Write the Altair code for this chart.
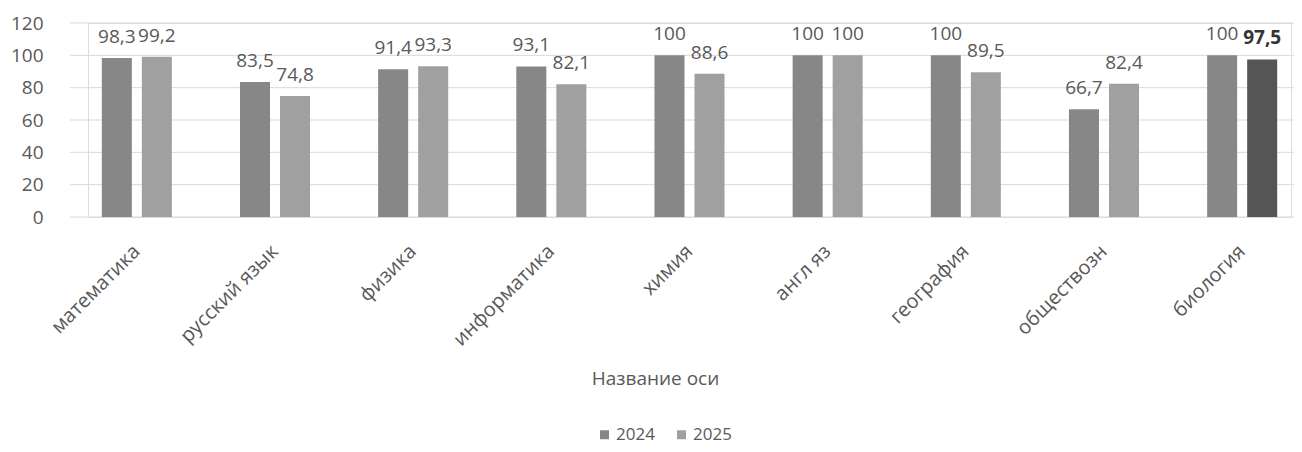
import altair as alt
import pandas as pd

subjects = ["математика", "русский язык", "физика", "информатика", "химия",
            "англ яз", "география", "обществозн", "биология"]
years = ["2024", "2025"]
v2024 = [98.3, 83.5, 91.4, 93.1, 100, 100, 100, 66.7, 100]
v2025 = [99.2, 74.8, 93.3, 82.1, 88.6, 100, 89.5, 82.4, 97.5]
y_ticks = [0, 20, 40, 60, 80, 100, 120]

rows = []
for s, a, b in zip(subjects, v2024, v2025):
    for yr, v in (("2024", a), ("2025", b)):
        shade = yr
        bold = "normal"
        if s == "биология" and yr == "2025":
            shade = "2025b"
            bold = "bold"
        rows.append({"subject": s, "year": yr, "value": v, "shade": shade,
                     "label": f"{v:g}".replace(".", ","), "weight": bold})
df = pd.DataFrame(rows)
grid_df = pd.DataFrame({"value": y_ticks})

FONT = "Open Sans"
GREY = "#595959"
W, H = 1203, 194

y_enc = alt.Y("value:Q", scale=alt.Scale(domain=[0, 120]),
              axis=alt.Axis(title=None, values=y_ticks, tickCount=7, labelFontSize=19,
                            labelColor=GREY, labelFont=FONT, labelPadding=45,
                            domain=False, ticks=False, grid=False, labelOverlap=False))

x_enc = alt.X("subject:N", sort=subjects,
              scale=alt.Scale(paddingInner=0.493, paddingOuter=0.1),
              axis=alt.Axis(title="Название оси", labelAngle=-45, labelAlign="right",
                            labelBaseline="middle", labelPadding=31, labelFontSize=20,
                            labelColor=GREY, labelFont=FONT, domain=False, ticks=False,
                            labelOverlap=False,
                            titleFont=FONT, titleFontSize=19, titleColor=GREY,
                            titleFontWeight="normal", titleX=567, titleY=161,
                            titleBaseline="middle"))
xoff = alt.XOffset("year:N", sort=years, scale=alt.Scale(paddingInner=0.25))

grid = alt.Chart(grid_df).mark_rule(color="#d9d9d9", strokeWidth=1).encode(
    y=y_enc,
    x=alt.value(-18), x2=alt.value(W + 12),
)

base = alt.Chart(df)

bars = base.mark_bar().encode(
    x=x_enc, xOffset=xoff, y=y_enc,
    color=alt.Color("shade:N",
                    scale=alt.Scale(domain=["2024", "2025", "2025b"],
                                    range=["#878787", "#a0a0a0", "#555555"]),
                    legend=alt.Legend(title=None, values=["2024", "2025"], orient="none",
                                      direction="horizontal", legendX=508, legendY=403,
                                      symbolType="square", symbolSize=81,
                                      labelFont=FONT, labelFontSize=17, labelColor=GREY,
                                      symbolStrokeWidth=0, columnPadding=18, labelOffset=3)),
)

labels_normal = base.transform_filter(alt.datum.weight == "normal").mark_text(
    baseline="alphabetic", dy=-15, fontSize=19, font=FONT, color=GREY).encode(
    x=x_enc, xOffset=xoff, y=y_enc, text="label:N")

labels_bold = base.transform_filter(alt.datum.weight == "bold").mark_text(
    baseline="alphabetic", dy=-15, fontSize=19, font=FONT, color="#333333",
    fontWeight="bold").encode(
    x=x_enc, xOffset=xoff, y=y_enc, text="label:N")

chart = alt.layer(grid, bars, labels_normal, labels_bold).properties(
    width=W, height=H,
    autosize=alt.AutoSizeParams(type="none"),
    padding={"left": 80, "top": 15, "right": 3, "bottom": 227},
).configure_view(stroke=None).configure(background="white")

chart.save("out.html", embed_options={"renderer": "svg", "actions": False})
